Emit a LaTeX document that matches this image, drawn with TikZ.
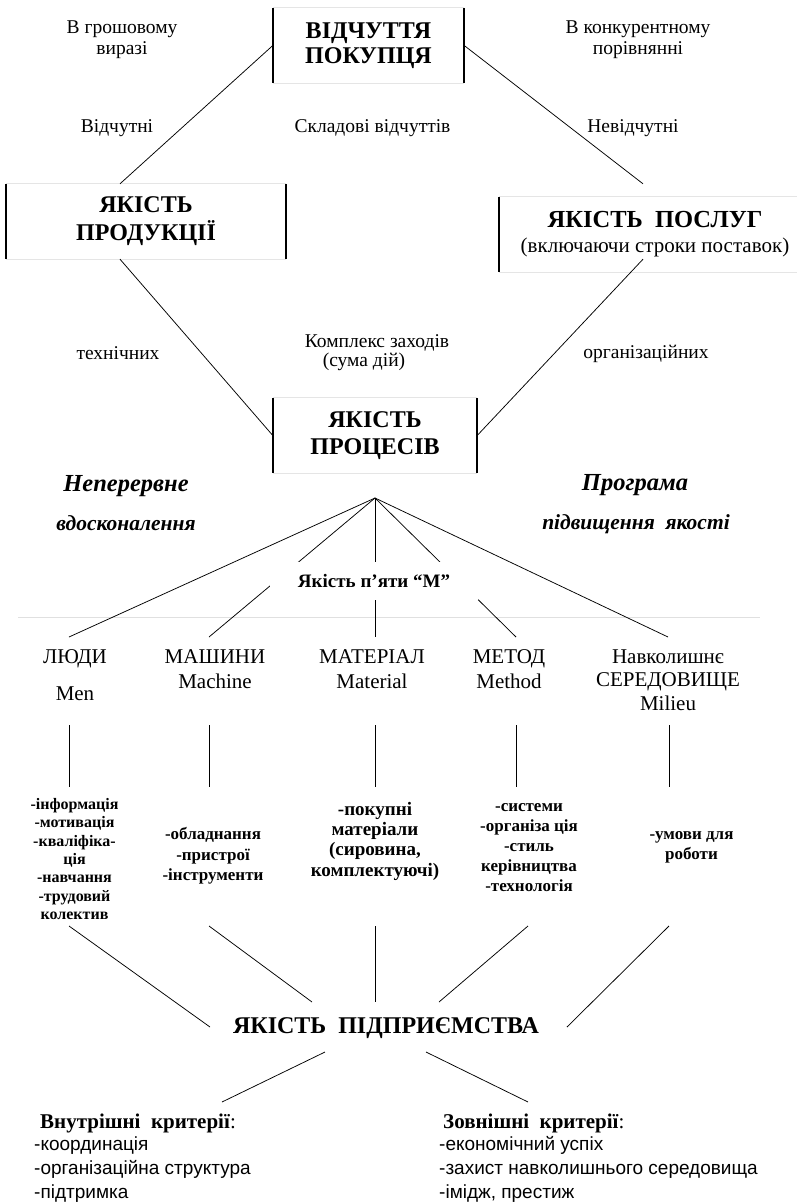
\documentclass[tikz,border=0pt]{standalone}
\usepackage{fontspec}
\setmainfont{Liberation Serif}
\newfontfamily\sansf{Liberation Sans}
\usetikzlibrary{calc}
\newcommand\myfs[2]{\fontsize{#1}{#2}\selectfont}
\newcommand\topstr{\rule{0pt}{14pt}}
\newcommand\boxsides[1]{%
  \draw[faint] (#1.north west) -- (#1.north east) (#1.south west) -- (#1.south east);
  \draw[bar] (#1.north west) -- (#1.south west) (#1.north east) -- (#1.south east);}
\begin{document}
\begin{tikzpicture}[x=1pt,y=-1pt,
  bar/.style={line width=1.8pt},
  faint/.style={line width=0.8pt, black!10},
  conn/.style={line width=0.75pt},
  boxn/.style={inner sep=0pt, align=center},
  lbl/.style={inner sep=0pt, anchor=base, font=\myfs{19.5}{21}},
  mlbl/.style={inner sep=0pt, anchor=north, align=center, font=\myfs{19.5}{21}},
  ital/.style={inner sep=0pt, anchor=base, font=\myfs{24.5}{26}\bfseries\itshape},
  ital2/.style={inner sep=0pt, anchor=base, font=\myfs{21.5}{26}\bfseries\itshape},
  mhead/.style={inner sep=0pt, anchor=base, font=\myfs{21}{24}},
  mlist/.style={inner sep=0pt, anchor=north, align=center, font=\myfs{17}{20}\bfseries},
  crit/.style={inner sep=0pt, anchor=north west, align=left, font=\myfs{19}{24}\sansf},
  crhead/.style={inner sep=0pt, anchor=base west, font=\myfs{21}{24}},
]
\useasboundingbox (0,0) rectangle (797,1204);

% faint horizontal rule
\draw[line width=0.8pt, black!12] (18,617) -- (760,617);

% ---------- boxes ----------
\node[boxn, font=\myfs{24}{25}\bfseries, minimum width=191pt, minimum height=75pt] (top) at (368.5,45.5) {ВІДЧУТТЯ\\ПОКУПЦЯ};
\boxsides{top}
\node[boxn, font=\myfs{24}{28}\bfseries, minimum width=280pt, minimum height=75pt] (prod) at (146,221.5) {ЯКІСТЬ\\ПРОДУКЦІЇ};
\boxsides{prod}
\node[boxn, font=\myfs{24.5}{25}\bfseries, minimum width=312pt, minimum height=75pt] (serv) at (655,234.5) {ЯКІСТЬ\ \ ПОСЛУГ\\{\myfs{21}{25}\mdseries (включаючи строки поставок)}};
\boxsides{serv}
\node[boxn, font=\myfs{24}{27}\bfseries, minimum width=204pt, minimum height=75pt] (proc) at (375,435.5) {ЯКІСТЬ\\ПРОЦЕСІВ};
\boxsides{proc}

% ---------- connectors between boxes ----------
\draw[conn] (top.west) -- ($(prod.north)+(-26,0)$);
\draw[conn] (top.east) -- ($(serv.north)+(-12,-13)$);
\draw[conn] ($(prod.south)+(-26,0)$) -- (proc.west);
\draw[conn] ($(serv.south)+(-12,-13)$) -- (proc.east);

% ---------- labels upper part ----------
\node[mlbl] (grosh) at (122,19) {\topstr В грошовому\\виразі};
\node[mlbl] (konk) at (638,19) {\topstr В конкурентному\\порівнянні};
\node[lbl] (vidch) at (117,132) {Відчутні};
\node[lbl] (sklad) at (372.5,132) {Складові відчуттів};
\node[lbl] (nevid) at (633,132) {Невідчутні};
\node[lbl] (tech) at (118,359) {технічних};
\node[lbl] (kompl) at (377,347) {Комплекс заходів};
\node[lbl] (suma) at (364,366) {(сума дій)};
\node[lbl] (orgn) at (646,358) {організаційних};

\node[ital] (nep) at (126,491) {Неперервне};
\node[ital2] (vdos) at (126,530) {вдосконалення};
\node[ital] (prog) at (635,490) {Програма};
\node[ital2] (pidv) at (636,529) {підвищення\ \ якості};

% ---------- fan of five M ----------
\coordinate (apex) at (375,498);
\coordinate (f1) at (69,637);
\coordinate (f2) at (209,637);
\coordinate (f3) at (375,637);
\coordinate (f4) at (516,637);
\coordinate (f5) at (668,637);
\foreach \c in {f1,f2,f3,f4,f5} \draw[conn] (apex) -- (\c);
\node[inner sep=0pt, fill=white, minimum width=208pt, minimum height=38pt, font=\myfs{19}{21}\bfseries] (five) at (374,581) {Якість п’яти “М”};

% ---------- five M headings ----------
\node[mhead] (m1) at (75,663) {ЛЮДИ};
\node[mhead] (m1e) at (75,700) {Men};
\node[mhead] (m2) at (215,663) {МАШИНИ};
\node[mhead] (m2e) at (215,688) {Machine};
\node[mhead] (m3) at (372,663) {МАТЕРІАЛ};
\node[mhead] (m3e) at (372,688) {Material};
\node[mhead] (m4) at (509,663) {МЕТОД};
\node[mhead] (m4e) at (509,688) {Method};
\node[mhead] (m5) at (668,663) {Навколишнє};
\node[mhead] (m5b) at (668,686) {СЕРЕДОВИЩЕ};
\node[mhead] (m5e) at (668,710) {Milieu};

% vertical ticks
\foreach \x [count=\i] in {69,209,375,516,669} {
  \coordinate (va\i) at (\x,725);
  \coordinate (vb\i) at (\x,787);
  \draw[conn] (va\i) -- (vb\i);
}

% ---------- lists ----------
\node[mlist, font=\myfs{16}{18.4}\bfseries] (l1) at (74.5,795) {\topstr-інформація\\-мотивація\\-кваліфіка-\\ція\\-навчання\\-трудовий\\колектив};
\node[mlist, font=\myfs{17}{20.8}\bfseries] (l2) at (213,825) {\topstr-обладнання\\-пристрої\\-інструменти};
\node[mlist, font=\myfs{19}{20.3}\bfseries] (l3) at (375,801) {\topstr-покупні\\матеріали\\(сировина,\\комплектуючі)};
\node[mlist] (l4) at (529,797) {\topstr-системи\\-організа ція\\-стиль\\керівництва\\-технологія};
\node[mlist] (l5) at (691.5,825) {\topstr-умови для\\роботи};

% ---------- lower fan ----------
\node[inner sep=0pt, anchor=base, font=\myfs{24}{28}\bfseries] (ent) at (386,1033) {ЯКІСТЬ\ \ ПІДПРИЄМСТВА};
\coordinate (w1) at (69,926);   \coordinate (e1) at (210,1027);
\coordinate (w2) at (209,926);  \coordinate (e2) at (312,1002);
\coordinate (w3) at (375,926);  \coordinate (e3) at (375,1002);
\coordinate (w4) at (528,926);  \coordinate (e4) at (439,1002);
\coordinate (w5) at (669,926);  \coordinate (e5) at (567,1027);
\foreach \i in {1,...,5} \draw[conn] (w\i) -- (e\i);

\coordinate (bl0) at (325,1052); \coordinate (bl1) at (222,1102);
\coordinate (br0) at (426,1052); \coordinate (br1) at (528,1102);
\draw[conn] (bl0) -- (bl1);
\draw[conn] (br0) -- (br1);

% ---------- criteria ----------
\node[crhead] (inh) at (40,1128) {\textbf{Внутрішні\ \ критерії}:};
\node[crit] (inl) at (34,1136) {\topstr-координація\\-організаційна структура\\-підтримка};
\node[crhead] (exh) at (443,1128) {\textbf{Зовнішні\ \ критерії}:};
\node[crit] (exl) at (439,1136) {\topstr-економічний успіх\\-захист навколишнього середовища\\-імідж, престиж};
\end{tikzpicture}
\end{document}
